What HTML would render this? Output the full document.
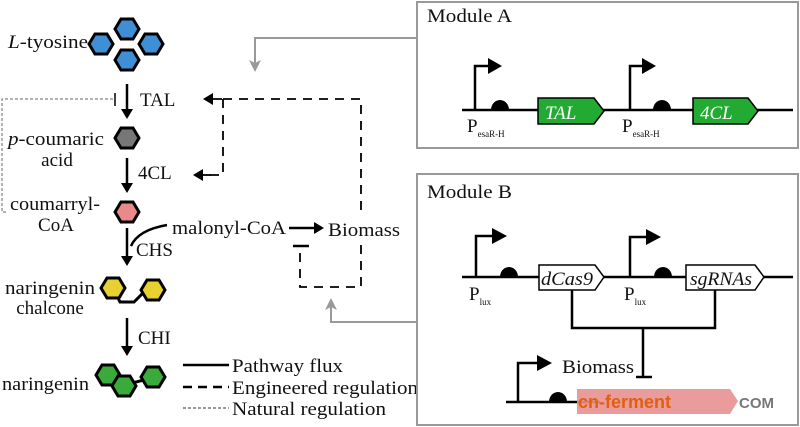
<!DOCTYPE html>
<html><head><style>body{margin:0;background:#fff}svg{display:block}svg text{font-family:"Liberation Serif","DejaVu Serif",serif;font-size:19px;fill:#111}</style></head><body>
<svg width="800" height="427" viewBox="0 0 800 427" font-family="Liberation Serif, serif" font-size="19">
<defs>
<polygon id="hx" points="-12,0 -6,-10 6,-10 12,0 6,10 -6,10" stroke="#000" stroke-width="3"/>
<marker id="ah" markerWidth="10" markerHeight="12" refX="8" refY="6" orient="auto" markerUnits="userSpaceOnUse"><path d="M0,0 L10,6 L0,12 z" fill="#000"/></marker>
<marker id="ag" markerWidth="12" markerHeight="12" refX="10" refY="6" orient="auto" markerUnits="userSpaceOnUse"><path d="M0,0 L12,6 L0,12 L3,6 z" fill="#999"/></marker>
</defs>
<g fill="#3f8fd6"><use href="#hx" x="127" y="29"/><use href="#hx" x="101" y="44"/><use href="#hx" x="151" y="44"/><use href="#hx" x="127" y="60"/></g>
<text x="8" y="48" textLength="80" lengthAdjust="spacingAndGlyphs"><tspan font-style="italic">L</tspan>-tyosine</text>
<use href="#hx" x="127" y="138" fill="#777"/>
<text x="8" y="145" textLength="96" lengthAdjust="spacingAndGlyphs"><tspan font-style="italic">p</tspan>-coumaric</text><text x="57" y="166" text-anchor="middle">acid</text>
<use href="#hx" x="127" y="212" fill="#e88a8a"/>
<text x="10" y="210" textLength="90" lengthAdjust="spacingAndGlyphs">coumarryl-</text><text x="56" y="231" text-anchor="middle">CoA</text>
<path d="M113,288 L120,302 L134,302 L142,294 L152,292" stroke="#000" stroke-width="3" fill="none"/>
<use href="#hx" x="113" y="288" fill="#e8d030"/><use href="#hx" x="153" y="290" fill="#e8d030"/>
<text x="5" y="294" textLength="90" lengthAdjust="spacingAndGlyphs">naringenin</text><text x="50" y="314" text-anchor="middle">chalcone</text>
<path d="M108,376 L124,385 L152,378" stroke="#000" stroke-width="3" fill="none"/>
<g fill="#3aaa3a"><use href="#hx" x="108" y="375"/><use href="#hx" x="124" y="386"/><use href="#hx" x="153" y="377"/></g>
<text x="2" y="390" textLength="87" lengthAdjust="spacingAndGlyphs">naringenin</text>
<g stroke="#000" stroke-width="2.5" fill="none">
<line x1="127" y1="84" x2="127" y2="117" marker-end="url(#ah)"/>
<line x1="127" y1="158" x2="127" y2="191" marker-end="url(#ah)"/>
<line x1="127" y1="228" x2="127" y2="264" marker-end="url(#ah)"/>
<path d="M167,225 Q138,230 131,246"/>
<line x1="127" y1="318" x2="127" y2="354" marker-end="url(#ah)"/>
<line x1="289" y1="228" x2="322" y2="228" marker-end="url(#ah)"/>
</g>
<line x1="115" y1="93" x2="115" y2="106" stroke="#000" stroke-width="1.5"/>
<text x="140" y="106">TAL</text><text x="138" y="179">4CL</text><text x="136" y="256">CHS</text><text x="138" y="344">CHI</text>
<text x="172" y="234" textLength="114" lengthAdjust="spacingAndGlyphs">malonyl-CoA</text><text x="328" y="236" textLength="72" lengthAdjust="spacingAndGlyphs">Biomass</text>
<path d="M113,99 H2 V212 H8" stroke="#999" stroke-width="1.5" stroke-dasharray="3,2" fill="none"/>
<g stroke="#000" stroke-width="1.8" fill="none" stroke-dasharray="9,7">
<path d="M223,99 H361 V215"/><path d="M223,99 V175 H210"/><path d="M361,245 V287 H300 V252"/>
</g>
<g stroke="#000" stroke-width="1.8"><line x1="222" y1="99" x2="205" y2="99" marker-end="url(#ah)"/><line x1="211" y1="175" x2="195" y2="175" marker-end="url(#ah)"/><line x1="293" y1="246" x2="309" y2="246" stroke-width="2.5"/></g>
<path d="M416,38 H255 V70" stroke="#999" stroke-width="2" fill="none" marker-end="url(#ag)"/>
<path d="M416,322 H331 V300" stroke="#999" stroke-width="2" fill="none" marker-end="url(#ag)"/>
<line x1="183" y1="365" x2="229" y2="365" stroke="#000" stroke-width="2.5"/>
<line x1="183" y1="387" x2="229" y2="387" stroke="#000" stroke-width="2.5" stroke-dasharray="9,6"/>
<line x1="183" y1="408" x2="229" y2="408" stroke="#999" stroke-width="2" stroke-dasharray="3,2"/>
<text x="232" y="372" textLength="111" lengthAdjust="spacingAndGlyphs">Pathway flux</text><text x="232" y="394" textLength="186" lengthAdjust="spacingAndGlyphs">Engineered regulation</text><text x="232" y="415" textLength="154" lengthAdjust="spacingAndGlyphs">Natural regulation</text>
<rect x="417" y="2" width="381" height="146" fill="none" stroke="#999" stroke-width="2"/>
<text x="427" y="22" textLength="85" lengthAdjust="spacingAndGlyphs">Module A</text>
<g stroke="#000" stroke-width="2.5" fill="none">
<line x1="462" y1="110" x2="793" y2="110"/>
<path d="M475,110 V66 H492" /><path d="M630,110 V66 H646"/>
</g>
<path d="M488,58 L502,66 L488,74z M642,58 L656,66 L642,74z"/>
<path d="M491,110 A9,10 0 0 1 509,110z M653,110 A9,10 0 0 1 671,110z"/>
<path d="M538,98 H594 L604,111 L594,124 H538z M693,98 H748 L758,111 L748,124 H693z" fill="#22aa33" stroke="#000" stroke-width="1.5"/>
<text x="545" y="119" font-style="italic" style="fill:#fff">TAL</text>
<text x="700" y="119" font-style="italic" style="fill:#fff">4CL</text>
<text x="467" y="132">P<tspan font-size="9" dy="5">esaR-H</tspan></text>
<text x="622" y="132">P<tspan font-size="9" dy="5">esaR-H</tspan></text>
<rect x="417" y="174" width="381" height="251" fill="none" stroke="#999" stroke-width="2"/>
<text x="427" y="198" textLength="85" lengthAdjust="spacingAndGlyphs">Module B</text>
<g stroke="#000" stroke-width="2.5" fill="none">
<line x1="462" y1="277" x2="793" y2="277"/>
<path d="M476,277 V236 H494"/><path d="M630,277 V237 H648"/>
<path d="M572,290 V328 H715 V290"/><path d="M643,328 V377"/><line x1="636" y1="377" x2="652" y2="377"/>
<line x1="506" y1="402" x2="600" y2="402"/><path d="M518,402 V363 H538"/>
</g>
<path d="M492,228 L507,236 L492,244z M646,229 L661,237 L646,245z M537,355 L552,363 L537,371z"/>
<path d="M500,277 A9,10 0 0 1 518,277z M654,277 A9,10 0 0 1 672,277z M549,402 A9,10 0 0 1 567,402z"/>
<path d="M539,265 H595 L604,277 L595,290 H539z M686,265 H755 L764,277 L755,290 H686z" fill="#fff" stroke="#000" stroke-width="1.5"/>
<text x="541" y="285" font-style="italic" textLength="52" lengthAdjust="spacingAndGlyphs">dCas9</text><text x="690" y="285" font-style="italic" textLength="62" lengthAdjust="spacingAndGlyphs">sgRNAs</text>
<text x="469" y="300">P<tspan font-size="9" dy="5">lux</tspan></text>
<text x="624" y="300">P<tspan font-size="9" dy="5">lux</tspan></text>
<text x="562" y="373" textLength="72" lengthAdjust="spacingAndGlyphs">Biomass</text>
<path d="M577,389 H730 L738,401 L730,414 H577z" fill="#e89090" opacity="0.9"/>
<text x="578" y="408" style="fill:#e06010;font-family:'Liberation Sans',sans-serif;font-weight:bold;font-size:18px">cn-ferment</text>
<text x="739" y="408" style="fill:#777;font-family:'Liberation Sans',sans-serif;font-weight:bold;font-size:15px">COM</text>
</svg>
</body></html>
